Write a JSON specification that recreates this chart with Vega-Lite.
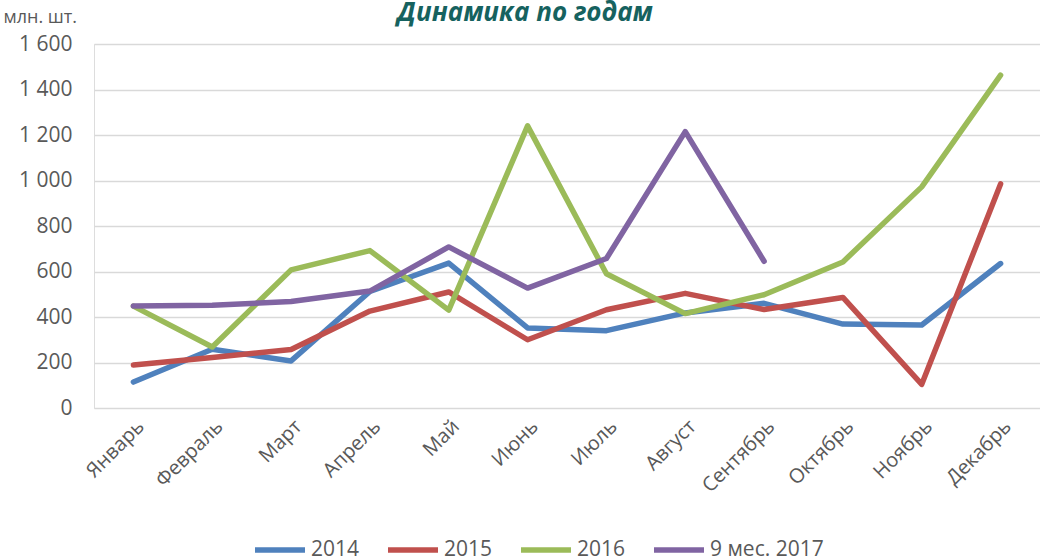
{
  "$schema": "https://vega.github.io/schema/vega-lite/v6.json",
  "autosize": "none",
  "width": 946,
  "height": 364,
  "padding": {"left": 94, "top": 44, "right": 0, "bottom": 152},
  "background": "white",
  "title": {
    "text": "Динамика по годам",
    "anchor": "middle",
    "font": "Open Sans",
    "fontSize": 26,
    "fontStyle": "italic",
    "fontWeight": "bold",
    "color": "#16625F",
    "dx": -42,
    "dy": 38,
    "offset": 20
  },
  "data": {
    "values": [
      {"month": "Январь", "series": "2014", "value": 114},
      {"month": "Февраль", "series": "2014", "value": 258},
      {"month": "Март", "series": "2014", "value": 207},
      {"month": "Апрель", "series": "2014", "value": 512},
      {"month": "Май", "series": "2014", "value": 637},
      {"month": "Июнь", "series": "2014", "value": 352},
      {"month": "Июль", "series": "2014", "value": 340},
      {"month": "Август", "series": "2014", "value": 418},
      {"month": "Сентябрь", "series": "2014", "value": 460},
      {"month": "Октябрь", "series": "2014", "value": 369},
      {"month": "Ноябрь", "series": "2014", "value": 365},
      {"month": "Декабрь", "series": "2014", "value": 635},
      {"month": "Январь", "series": "2015", "value": 189},
      {"month": "Февраль", "series": "2015", "value": 222},
      {"month": "Март", "series": "2015", "value": 257},
      {"month": "Апрель", "series": "2015", "value": 426},
      {"month": "Май", "series": "2015", "value": 510},
      {"month": "Июнь", "series": "2015", "value": 300},
      {"month": "Июль", "series": "2015", "value": 432},
      {"month": "Август", "series": "2015", "value": 504},
      {"month": "Сентябрь", "series": "2015", "value": 433},
      {"month": "Октябрь", "series": "2015", "value": 486},
      {"month": "Ноябрь", "series": "2015", "value": 104},
      {"month": "Декабрь", "series": "2015", "value": 985},
      {"month": "Январь", "series": "2016", "value": 448},
      {"month": "Февраль", "series": "2016", "value": 268},
      {"month": "Март", "series": "2016", "value": 607},
      {"month": "Апрель", "series": "2016", "value": 692},
      {"month": "Май", "series": "2016", "value": 430},
      {"month": "Июнь", "series": "2016", "value": 1240},
      {"month": "Июль", "series": "2016", "value": 590},
      {"month": "Август", "series": "2016", "value": 415},
      {"month": "Сентябрь", "series": "2016", "value": 498},
      {"month": "Октябрь", "series": "2016", "value": 642},
      {"month": "Ноябрь", "series": "2016", "value": 972},
      {"month": "Декабрь", "series": "2016", "value": 1463},
      {"month": "Январь", "series": "9 мес. 2017", "value": 448},
      {"month": "Февраль", "series": "9 мес. 2017", "value": 452},
      {"month": "Март", "series": "9 мес. 2017", "value": 468},
      {"month": "Апрель", "series": "9 мес. 2017", "value": 514},
      {"month": "Май", "series": "9 мес. 2017", "value": 708},
      {"month": "Июнь", "series": "9 мес. 2017", "value": 527},
      {"month": "Июль", "series": "9 мес. 2017", "value": 657},
      {"month": "Август", "series": "9 мес. 2017", "value": 1215},
      {"month": "Сентябрь", "series": "9 мес. 2017", "value": 645}
    ]
  },
  "mark": {"type": "line", "strokeWidth": 5.5, "strokeCap": "round", "strokeJoin": "round"},
  "encoding": {
    "x": {
      "field": "month",
      "type": "ordinal",
      "sort": ["Январь", "Февраль", "Март", "Апрель", "Май", "Июнь", "Июль", "Август", "Сентябрь", "Октябрь", "Ноябрь", "Декабрь"],
      "scale": {"type": "point", "padding": 0.5},
      "axis": {
        "title": null,
        "labelAngle": -45,
        "labelFont": "Open Sans",
        "labelFontSize": 20,
        "labelColor": "#595959",
        "labelPadding": 8,
        "ticks": false,
        "domain": false,
        "grid": false
      }
    },
    "y": {
      "field": "value",
      "type": "quantitative",
      "scale": {"domain": [0, 1600], "nice": false},
      "axis": {
        "values": [0, 200, 400, 600, 800, 1000, 1200, 1400, 1600],
        "labelExpr": "replace(format(datum.value, ','), ',', ' ')",
        "labelFont": "Open Sans",
        "labelFontSize": 21,
        "labelColor": "#595959",
        "labelPadding": 22,
        "ticks": false,
        "domain": false,
        "grid": true,
        "gridColor": "#d9d9d9",
        "gridWidth": 1.5,
        "title": "млн. шт.",
        "titleFont": "Open Sans",
        "titleFontSize": 18,
        "titleFontWeight": "normal",
        "titleColor": "#595959",
        "titleAngle": 0,
        "titleAlign": "left",
        "titleBaseline": "alphabetic",
        "titleX": -91,
        "titleY": -22
      }
    },
    "color": {
      "field": "series",
      "type": "nominal",
      "scale": {
        "domain": ["2014", "2015", "2016", "9 мес. 2017"],
        "range": ["#4F81BD", "#C0504D", "#9BBB59", "#8064A2"]
      },
      "legend": {
        "title": null,
        "orient": "none",
        "direction": "horizontal",
        "legendX": 158,
        "legendY": 478,
        "symbolType": "stroke",
        "symbolSize": 2500,
        "symbolStrokeWidth": 5.5,
        "labelFont": "Open Sans",
        "labelFontSize": 21,
        "labelColor": "#595959",
        "labelOffset": 3,
        "columnPadding": 17
      }
    }
  }
}
